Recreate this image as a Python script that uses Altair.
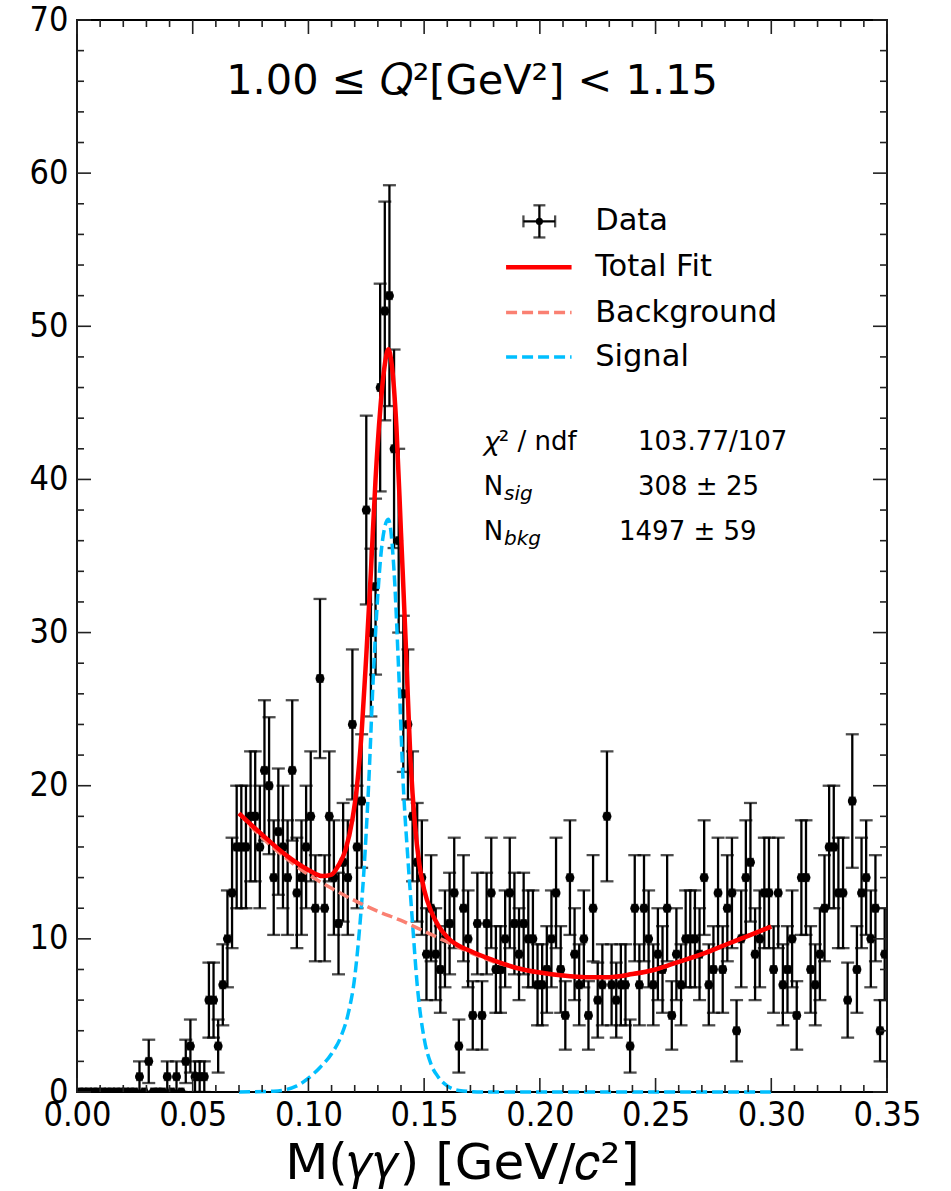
import altair as alt
import pandas as pd

# ---------------- data ----------------
BIN_WIDTH = 0.002
counts = [
    0, 0, 0, 0, 0, 0, 0, 0, 0, 0,
    0, 0, 0, 1, 0, 2, 0, 0, 0, 1,
    0, 1, 0, 2, 3, 1, 1, 1, 6, 6,
    3, 7, 10, 13, 16, 16, 16, 18, 18, 16,
    21, 20, 14, 17, 16, 14, 21, 13, 14, 16,
    18, 12, 27, 12, 18, 14, 11, 15, 14, 24,
    16, 19, 38, 30, 33, 46, 51, 52, 42, 36,
    26, 24, 18, 15, 14, 9, 12, 9, 8, 10,
    11, 13, 3, 12, 10, 5, 11, 5, 11, 13,
    8, 8, 10, 13, 11, 9, 11, 10, 10, 7,
    7, 8, 10, 13, 8, 5, 14, 9, 7, 10,
    5, 12, 6, 7, 18, 7, 6, 7, 7, 3,
    12, 7, 12, 10, 7, 9, 8, 12, 5, 9,
    7, 10, 10, 10, 9, 14, 7, 8, 13, 8,
    12, 13, 4, 10, 14, 15, 9, 10, 13, 13,
    8, 13, 7, 8, 10, 5, 14, 14, 8, 7,
    9, 12, 16, 16, 13, 13, 6, 19, 8, 13,
    14, 10, 12, 4, 9,
]
bin_centers = [round(BIN_WIDTH * (i + 0.5), 4) for i in range(len(counts))]

total_x = [0.070, 0.080, 0.090, 0.100, 0.106, 0.110, 0.113, 0.116, 0.119, 0.121,
           0.123, 0.125, 0.127, 0.129, 0.131, 0.133, 0.1345, 0.136, 0.138, 0.140,
           0.142, 0.144, 0.146, 0.148, 0.150, 0.153, 0.156, 0.160, 0.170, 0.180,
           0.190, 0.200, 0.210, 0.220, 0.230, 0.240, 0.250, 0.260, 0.270, 0.280,
           0.290, 0.300]
total_y = [18.2, 16.8, 15.5, 14.5, 14.1, 14.2, 14.8, 15.8, 17.8, 20.0,
           23.5, 28.5, 34.0, 40.0, 44.5, 47.5, 48.5, 47.5, 43.5, 36.5,
           29.5, 22.0, 17.5, 14.8, 13.2, 11.8, 10.9, 10.1, 9.2, 8.6,
           8.1, 7.8, 7.6, 7.5, 7.5, 7.7, 8.0, 8.5, 9.0, 9.6,
           10.2, 10.8]

bkg_x = [0.070, 0.080, 0.090, 0.100, 0.110, 0.120, 0.130, 0.140, 0.150, 0.160,
         0.170, 0.180, 0.190, 0.200, 0.210, 0.220, 0.230, 0.240, 0.250, 0.260,
         0.270, 0.280, 0.290, 0.300]
bkg_y = [18.2, 16.6, 15.3, 14.2, 13.3, 12.5, 11.8, 11.2, 10.5, 9.8,
         9.1, 8.5, 8.1, 7.8, 7.6, 7.5, 7.5, 7.7, 8.0, 8.5,
         9.0, 9.6, 10.2, 10.8]

sig_x = [0.070, 0.085, 0.095, 0.100, 0.105, 0.110, 0.114, 0.117, 0.120, 0.122,
         0.124, 0.126, 0.128, 0.130, 0.132, 0.1345, 0.137, 0.139, 0.141, 0.143,
         0.145, 0.147, 0.150, 0.153, 0.156, 0.160, 0.165, 0.175, 0.300]
sig_y = [0.0, 0.05, 0.4, 0.9, 1.6, 2.5, 3.6, 5.0, 7.5, 10.5,
         14.5, 20.0, 27.0, 32.5, 36.0, 37.4, 34.0, 27.5, 20.0, 15.2,
         11.0, 7.0, 3.5, 1.8, 1.0, 0.4, 0.1, 0.0, 0.0]

x_major = [0.00, 0.05, 0.10, 0.15, 0.20, 0.25, 0.30, 0.35]
x_minor = [0.01, 0.02, 0.03, 0.04, 0.06, 0.07, 0.08, 0.09, 0.11, 0.12, 0.13, 0.14,
           0.16, 0.17, 0.18, 0.19, 0.21, 0.22, 0.23, 0.24, 0.26, 0.27, 0.28, 0.29,
           0.31, 0.32, 0.33, 0.34]
y_major = [0, 10, 20, 30, 40, 50, 60, 70]
y_minor = [v for v in range(0, 71, 2) if v % 10 != 0]

title_text = "1.00 ≤ 𝑄²[GeV²] < 1.15"
x_title = "M(𝛾𝛾) [GeV/𝑐²]"
legend_labels = ["Data", "Total Fit", "Background", "Signal"]
stat_names = ["𝜒² / ndf", "N", "N"]
stat_subs = ["", "sig", "bkg"]
stat_values = ["103.77/107", "308 ± 25", "1497 ± 59"]

# ---------------- layout / style ----------------
W, H = 810, 1072
FONT = "DejaVu Sans"
TFONT = "DejaVu Sans Condensed, DejaVu Sans"
RED = "#ff0000"
SALMON = "#fa8072"
CYAN = "#00bfff"
EW = 2.3  # error bar line width

xscale = alt.Scale(domain=[0, 0.35], nice=False, zero=False)
yscale = alt.Scale(domain=[0, 70], nice=False, zero=False)
x_axis = alt.Axis(values=x_major, format=".2f", labelFont=TFONT, labelFontSize=34,
                  labelColor="black", ticks=False, domain=False, grid=False,
                  labelPadding=6, labelFlush=False, title=x_title, titleFont=FONT,
                  titleFontSize=50, titleFontWeight="normal", titleColor="black",
                  titlePadding=6, titleX=385, titleAlign="center")
y_axis = alt.Axis(values=y_major, format="d", labelFont=TFONT, labelFontSize=34,
                  labelColor="black", ticks=False, domain=False, grid=False,
                  labelPadding=9, labelFlush=False, title="")


def X(f):
    return alt.X(f, type="quantitative", scale=xscale, axis=x_axis)


def Y(f):
    return alt.Y(f, type="quantitative", scale=yscale, axis=y_axis)


df = pd.DataFrame({"m": bin_centers, "n": counts})
df["err"] = df["n"] ** 0.5
df["lo"] = df["n"] - df["err"]
df["hi"] = df["n"] + df["err"]
df["mlo"] = df["m"] - BIN_WIDTH / 2
df["mhi"] = df["m"] + BIN_WIDTH / 2
base = alt.Chart(df)

vbars = base.mark_rule(color="black", strokeWidth=EW, clip=True).encode(
    x=X("m"), y=Y("lo"), y2="hi")
hbars = base.mark_rule(color="black", strokeWidth=EW, clip=True).encode(
    x=X("mlo"), x2="mhi", y=Y("n"))
cap_lo = base.mark_tick(orient="horizontal", size=13, thickness=EW, color="black",
                        clip=True).encode(x=X("m"), y=Y("lo"))
cap_hi = base.mark_tick(orient="horizontal", size=13, thickness=EW, color="black",
                        clip=True).encode(x=X("m"), y=Y("hi"))
xcap_lo = base.mark_tick(orient="vertical", size=9, thickness=EW, color="black",
                         clip=True).encode(x=X("mlo"), y=Y("n"))
xcap_hi = base.mark_tick(orient="vertical", size=9, thickness=EW, color="black",
                         clip=True).encode(x=X("mhi"), y=Y("n"))
points = base.mark_point(filled=True, size=80, color="black", opacity=1,
                         clip=True).encode(x=X("m"), y=Y("n"))

sig_line = alt.Chart(pd.DataFrame({"x": sig_x, "y": sig_y})).mark_line(
    color=CYAN, strokeWidth=3.5, strokeDash=[11, 5], interpolate="monotone").encode(
    x=X("x"), y=Y("y"))
bkg_line = alt.Chart(pd.DataFrame({"x": bkg_x, "y": bkg_y})).mark_line(
    color=SALMON, strokeWidth=3.5, strokeDash=[11, 5], interpolate="monotone").encode(
    x=X("x"), y=Y("y"))
tot_line = alt.Chart(pd.DataFrame({"x": total_x, "y": total_y})).mark_line(
    color=RED, strokeWidth=4.5, interpolate="monotone").encode(x=X("x"), y=Y("y"))


# tick marks pointing inward, on all four sides
def xticks(vals, length):
    d = alt.Chart(pd.DataFrame({"v": vals}))
    b = d.mark_rule(color="#222222", strokeWidth=1.6).encode(
        x=X("v"), y=alt.value(H), y2=alt.value(H - length))
    t = d.mark_rule(color="#222222", strokeWidth=1.6).encode(
        x=X("v"), y=alt.value(0), y2=alt.value(length))
    return [b, t]


def yticks(vals, length):
    d = alt.Chart(pd.DataFrame({"v": vals}))
    l = d.mark_rule(color="#222222", strokeWidth=1.6).encode(
        y=Y("v"), x=alt.value(0), x2=alt.value(length))
    r = d.mark_rule(color="#222222", strokeWidth=1.6).encode(
        y=Y("v"), x=alt.value(W), x2=alt.value(W - length))
    return [l, r]


tick_layers = xticks(x_major, 14) + xticks(x_minor, 7) + yticks(y_major, 14) + yticks(y_minor, 7)

# legend (drawn inside the plot)
leg_sym_x0, leg_sym_x1 = 0.1854, 0.2137
leg_y = [56.85, 53.85, 50.9, 48.0]
leg_text_x = 0.2239
leg_lines = []
for lab, yy, col, w, dash in [("Total Fit", leg_y[1], RED, 4.5, None),
                              ("Background", leg_y[2], SALMON, 3.5, [11, 5]),
                              ("Signal", leg_y[3], CYAN, 3.5, [11, 5])]:
    kw = dict(color=col, strokeWidth=w)
    if dash:
        kw["strokeDash"] = dash
    leg_lines.append(alt.Chart(pd.DataFrame({"x": [leg_sym_x0], "x2": [leg_sym_x1], "y": [yy]}))
                     .mark_rule(**kw).encode(x=X("x"), x2="x2", y=Y("y")))

dleg = alt.Chart(pd.DataFrame({"x": [0.1998], "y": [leg_y[0]], "xl": [0.1929], "xh": [0.2066],
                               "yl": [55.8], "yh": [57.9]}))
leg_data = [
    dleg.mark_rule(color="black", strokeWidth=EW).encode(x=X("x"), y=Y("yl"), y2="yh"),
    dleg.mark_rule(color="black", strokeWidth=EW).encode(x=X("xl"), x2="xh", y=Y("y")),
    dleg.mark_tick(orient="horizontal", size=12, thickness=EW, color="black").encode(x=X("x"), y=Y("yl")),
    dleg.mark_tick(orient="horizontal", size=12, thickness=EW, color="black").encode(x=X("x"), y=Y("yh")),
    dleg.mark_tick(orient="vertical", size=12, thickness=EW, color="black").encode(x=X("xl"), y=Y("y")),
    dleg.mark_tick(orient="vertical", size=12, thickness=EW, color="black").encode(x=X("xh"), y=Y("y")),
    dleg.mark_point(filled=True, size=50, color="black", opacity=1).encode(x=X("x"), y=Y("y")),
]
leg_text = alt.Chart(pd.DataFrame({"x": [leg_text_x] * 4, "y": leg_y, "t": legend_labels})).mark_text(
    align="left", baseline="middle", font=FONT, fontSize=30.5, color="black").encode(
    x=X("x"), y=Y("y"), text="t:N")

# statistics box
stat_name_x = 0.1758
stat_val_x = [0.2424, 0.2424, 0.2342]
stat_base_y = [41.93, 38.98, 36.05]
stat_sub_y = [41.93, 38.66, 35.72]
stat_sub_x = 0.1845
names = alt.Chart(pd.DataFrame({"x": [stat_name_x] * 3, "y": stat_base_y, "t": stat_names})).mark_text(
    align="left", baseline="alphabetic", font=FONT, fontSize=26, color="black").encode(
    x=X("x"), y=Y("y"), text="t:N")
subs = alt.Chart(pd.DataFrame({"x": [stat_sub_x] * 3, "y": stat_sub_y, "t": stat_subs})).mark_text(
    align="left", baseline="alphabetic", font=FONT, fontSize=20, fontStyle="italic",
    color="black").encode(x=X("x"), y=Y("y"), text="t:N")
vals = alt.Chart(pd.DataFrame({"x": stat_val_x, "y": stat_base_y, "t": stat_values})).mark_text(
    align="left", baseline="alphabetic", font=FONT, fontSize=26, color="black").encode(
    x=X("x"), y=Y("y"), text="t:N")

title = alt.Chart(pd.DataFrame({"x": [0.1707], "y": [65.95], "t": [title_text]})).mark_text(
    align="center", baseline="middle", font=FONT, fontSize=41.5, color="black").encode(
    x=X("x"), y=Y("y"), text="t:N")

layers = ([vbars, hbars, cap_lo, cap_hi, xcap_lo, xcap_hi, points,
           sig_line, bkg_line, tot_line] + tick_layers + leg_lines + leg_data +
          [leg_text, names, subs, vals, title])

chart = alt.layer(*layers).properties(
    width=W, height=H,
    padding={"left": 77, "top": 20, "right": 64, "bottom": 99},
    autosize=alt.AutoSizeParams(type="none"),
    background="white",
).configure_view(stroke="black", strokeWidth=1.8)

chart.save("out.html", embed_options={"renderer": "svg", "actions": False})
